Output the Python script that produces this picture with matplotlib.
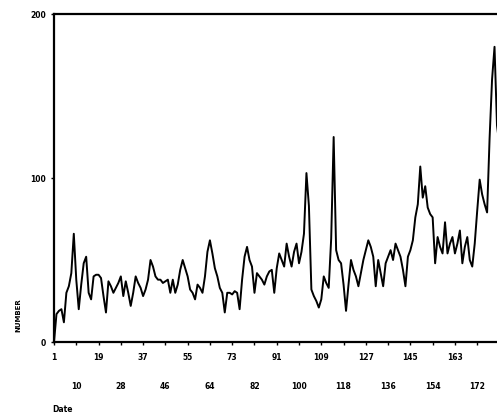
import matplotlib
matplotlib.use("Agg")
import matplotlib.pyplot as plt

# daily counts, one value per day starting at day 1
counts = [
    0, 17, 19, 20, 12, 30, 34, 42, 66, 38,
    20, 35, 48, 52, 30, 26, 40, 41, 41, 39,
    28, 18, 37, 34, 30, 33, 36, 40, 28, 37,
    30, 22, 30, 40, 36, 33, 28, 32, 38, 50,
    46, 40, 38, 38, 36, 37, 38, 30, 38, 30,
    35, 44, 50, 45, 40, 32, 30, 26, 35, 33,
    30, 40, 55, 62, 54, 45, 40, 33, 30, 18,
    30, 30, 29, 31, 30, 20, 38, 52, 58, 50,
    46, 30, 42, 40, 38, 35, 40, 43, 44, 30,
    45, 54, 50, 46, 60, 52, 46, 55, 60, 48,
    55, 66, 103, 83, 32, 28, 25, 21, 26, 40,
    36, 33, 63, 125, 56, 50, 48, 35, 19, 35,
    50, 44, 40, 34, 42, 50, 56, 62, 58, 52,
    34, 50, 42, 34, 48, 52, 56, 50, 60, 56,
    52, 44, 34, 52, 56, 62, 76, 84, 107, 88,
    95, 82, 78, 76, 48, 64, 58, 54, 73, 54,
    60, 64, 54, 60, 68, 48, 58, 64, 50, 46,
    60, 80, 99, 90, 84, 79, 124, 160, 180, 132,
    120,
]
dias = list(range(1, len(counts) + 1))

ticks_arriba = [1, 19, 37, 55, 73, 91, 109, 127, 145, 163]
ticks_abajo = [10, 28, 46, 64, 82, 100, 118, 136, 154, 172]
ticks_y = [0, 100, 200]

fig = plt.figure(figsize=(4.97, 4.2), dpi=100)
ax = fig.add_axes([54 / 497, 78 / 420, 443 / 497, 328 / 420])

ax.plot(dias, counts, color="black", linewidth=1.4)

ax.set_xlim(1, 180)
ax.set_ylim(0, 200)

# two rows of date labels: major ticks on top row, minor ticks below
ax.set_xticks(ticks_arriba)
ax.set_xticklabels([str(t) for t in ticks_arriba], fontsize=5.5, fontweight="bold")
ax.set_xticks(ticks_abajo, minor=True)
ax.set_xticklabels([str(t) for t in ticks_abajo], minor=True, fontsize=5.5, fontweight="bold")
ax.tick_params(axis="x", which="major", length=2, width=1, pad=6)
ax.tick_params(axis="x", which="minor", length=2, width=1, pad=27)

ax.set_yticks(ticks_y)
ax.set_yticklabels([str(t) for t in ticks_y], fontsize=5.5, fontweight="bold")
ax.tick_params(axis="y", length=2, width=1, pad=4)

for lado in ["top", "bottom", "left"]:
    ax.spines[lado].set_linewidth(1.6)
ax.spines["right"].set_visible(False)

fig.text(0.036, 0.25, "NUMBER", rotation=90, fontsize=5, fontweight="bold",
         ha="center", va="center")
fig.text(0.105, 0.014, "Date", fontsize=5.5, fontweight="bold", ha="left", va="bottom")

fig.savefig("out.png", dpi=100)
